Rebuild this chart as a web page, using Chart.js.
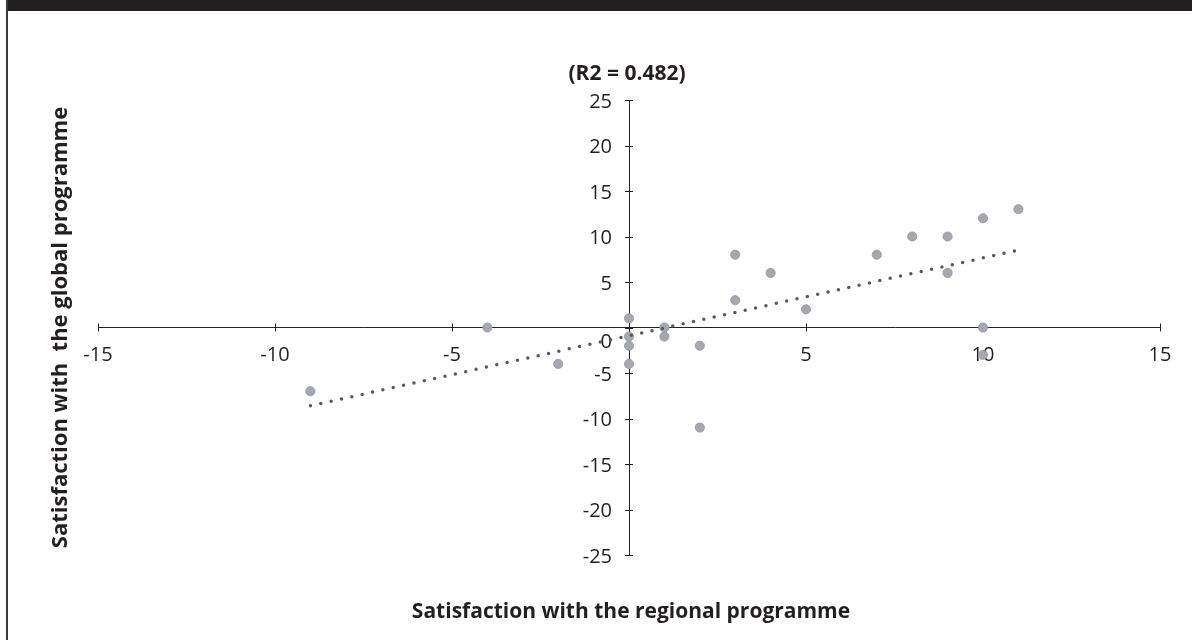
<!DOCTYPE html>
<html>
<head>
<meta charset="utf-8">
<script src="https://cdn.jsdelivr.net/npm/chart.js@4.4.0/dist/chart.umd.min.js"></script>
<style>
html, body { margin: 0; padding: 0; background: #fff; }
#frame { position: relative; width: 1192px; height: 640px; overflow: hidden; }
#topbar { position: absolute; left: 6px; top: 0; right: 0; height: 11px; background: #231f20; }
#leftline { position: absolute; left: 6px; top: 0; width: 2px; height: 640px; background: #3a3a3a; }
canvas { position: absolute; left: 0; top: 0; }
</style>
</head>
<body>
<div id="frame">
  <canvas id="chart" width="1192" height="640"></canvas>
  <div id="topbar"></div>
  <div id="leftline"></div>
</div>
<script>
// Scatter data
const regional = [-9, -4, -2, 0, 0, 0, 0, 1, 1, 2, 2, 3, 3, 4, 5, 7, 8, 9, 9, 10, 10, 10, 11];
const globalScore = [-7, 0, -4, 1, -1, -2, -4, 0, -1, -2, -11, 8, 3, 6, 2, 8, 10, 10, 6, 12, 0, -3, 13];

// Linear trendline end points
const trendX = [-9, 11];
const trendY = [-8.6, 8.5];

const xTicks = [-15, -10, -5, 0, 5, 10, 15];
const yTicks = [-25, -20, -15, -10, -5, 0, 5, 10, 15, 20, 25];

const chartTitle = '(R2 = 0.482)';
const xTitle = 'Satisfaction with the regional programme';
const yTitle = 'Satisfaction with  the global programme';

const textColor = '#231f20';
const tickFont = '20px "Open Sans"';
const boldFont = 'bold 21px "Open Sans"';

// Cross ticks, tick labels and the titles
const decorations = {
    id: 'decorations',
    beforeDatasetsDraw(chart) {
        const ctx = chart.ctx;
        const xs = chart.scales.x;
        const ys = chart.scales.y;
        const ox = xs.getPixelForValue(0);
        const oy = ys.getPixelForValue(0);

        ctx.save();
        ctx.strokeStyle = textColor;
        ctx.lineWidth = 1;
        ctx.beginPath();
        xTicks.forEach(v => {
            const px = Math.round(xs.getPixelForValue(v)) + 0.5;
            ctx.moveTo(px, oy - 4);
            ctx.lineTo(px, oy + 4);
        });
        yTicks.forEach(v => {
            const py = Math.round(ys.getPixelForValue(v)) + 0.5;
            ctx.moveTo(ox - 4, py);
            ctx.lineTo(ox + 4, py);
        });
        ctx.stroke();

        ctx.fillStyle = textColor;
        ctx.font = tickFont;
        ctx.textBaseline = 'middle';
        ctx.textAlign = 'center';
        xTicks.forEach(v => {
            if (v !== 0) ctx.fillText(String(v), xs.getPixelForValue(v), oy + 28);
        });
        ctx.textAlign = 'right';
        yTicks.forEach(v => {
            const py = ys.getPixelForValue(v) + (v === 0 ? 15 : 2);
            ctx.fillText(String(v), ox - 17, py);
        });
        ctx.restore();
    },
    afterDraw(chart) {
        const ctx = chart.ctx;
        const ox = chart.scales.x.getPixelForValue(0);
        const area = chart.chartArea;

        ctx.save();
        ctx.fillStyle = textColor;
        ctx.font = boldFont;
        ctx.textAlign = 'center';
        ctx.textBaseline = 'middle';
        ctx.fillText(chartTitle, ox - 2, area.top - 26);
        ctx.fillText(xTitle, ox + 2, area.bottom + 57);

        ctx.font = 'bold 22px "Open Sans"';
        ctx.translate(61, (area.top + area.bottom) / 2);
        ctx.rotate(-Math.PI / 2);
        ctx.fillText(yTitle, 0, 0);
        ctx.restore();
    }
};

new Chart(document.getElementById('chart'), {
    type: 'scatter',
    data: {
        datasets: [
            {
                type: 'line',
                label: 'Trend',
                data: trendX.map((x, i) => ({ x: x, y: trendY[i] })),
                borderColor: '#58595b',
                borderWidth: 3.5,
                borderDash: [0, 10.6],
                borderCapStyle: 'round',
                pointRadius: 0,
                fill: false,
                tension: 0
            },
            {
                label: 'Satisfaction',
                data: regional.map((x, i) => ({ x: x, y: globalScore[i] })),
                backgroundColor: '#a6a8ae',
                borderColor: '#9197ab',
                borderWidth: 0.8,
                pointRadius: 4.6
            }
        ]
    },
    options: {
        responsive: false,
        animation: false,
        layout: {
            padding: { left: 98, right: 32, top: 100, bottom: 85 }
        },
        plugins: {
            legend: { display: false },
            tooltip: { enabled: false }
        },
        scales: {
            x: {
                type: 'linear',
                min: -15,
                max: 15,
                position: { y: 0 },
                afterBuildTicks: s => { s.ticks = xTicks.map(v => ({ value: v })); },
                afterFit: s => { s.height = 0; },
                grid: { display: false, drawTicks: false },
                border: { display: true, color: textColor, width: 1 },
                ticks: { display: false }
            },
            y: {
                type: 'linear',
                min: -25,
                max: 25,
                position: { x: 0 },
                afterBuildTicks: s => { s.ticks = yTicks.map(v => ({ value: v })); },
                afterFit: s => { s.width = 0; },
                grid: { display: false, drawTicks: false },
                border: { display: true, color: textColor, width: 1 },
                ticks: { display: false }
            }
        }
    },
    plugins: [decorations]
});
</script>
</body>
</html>
